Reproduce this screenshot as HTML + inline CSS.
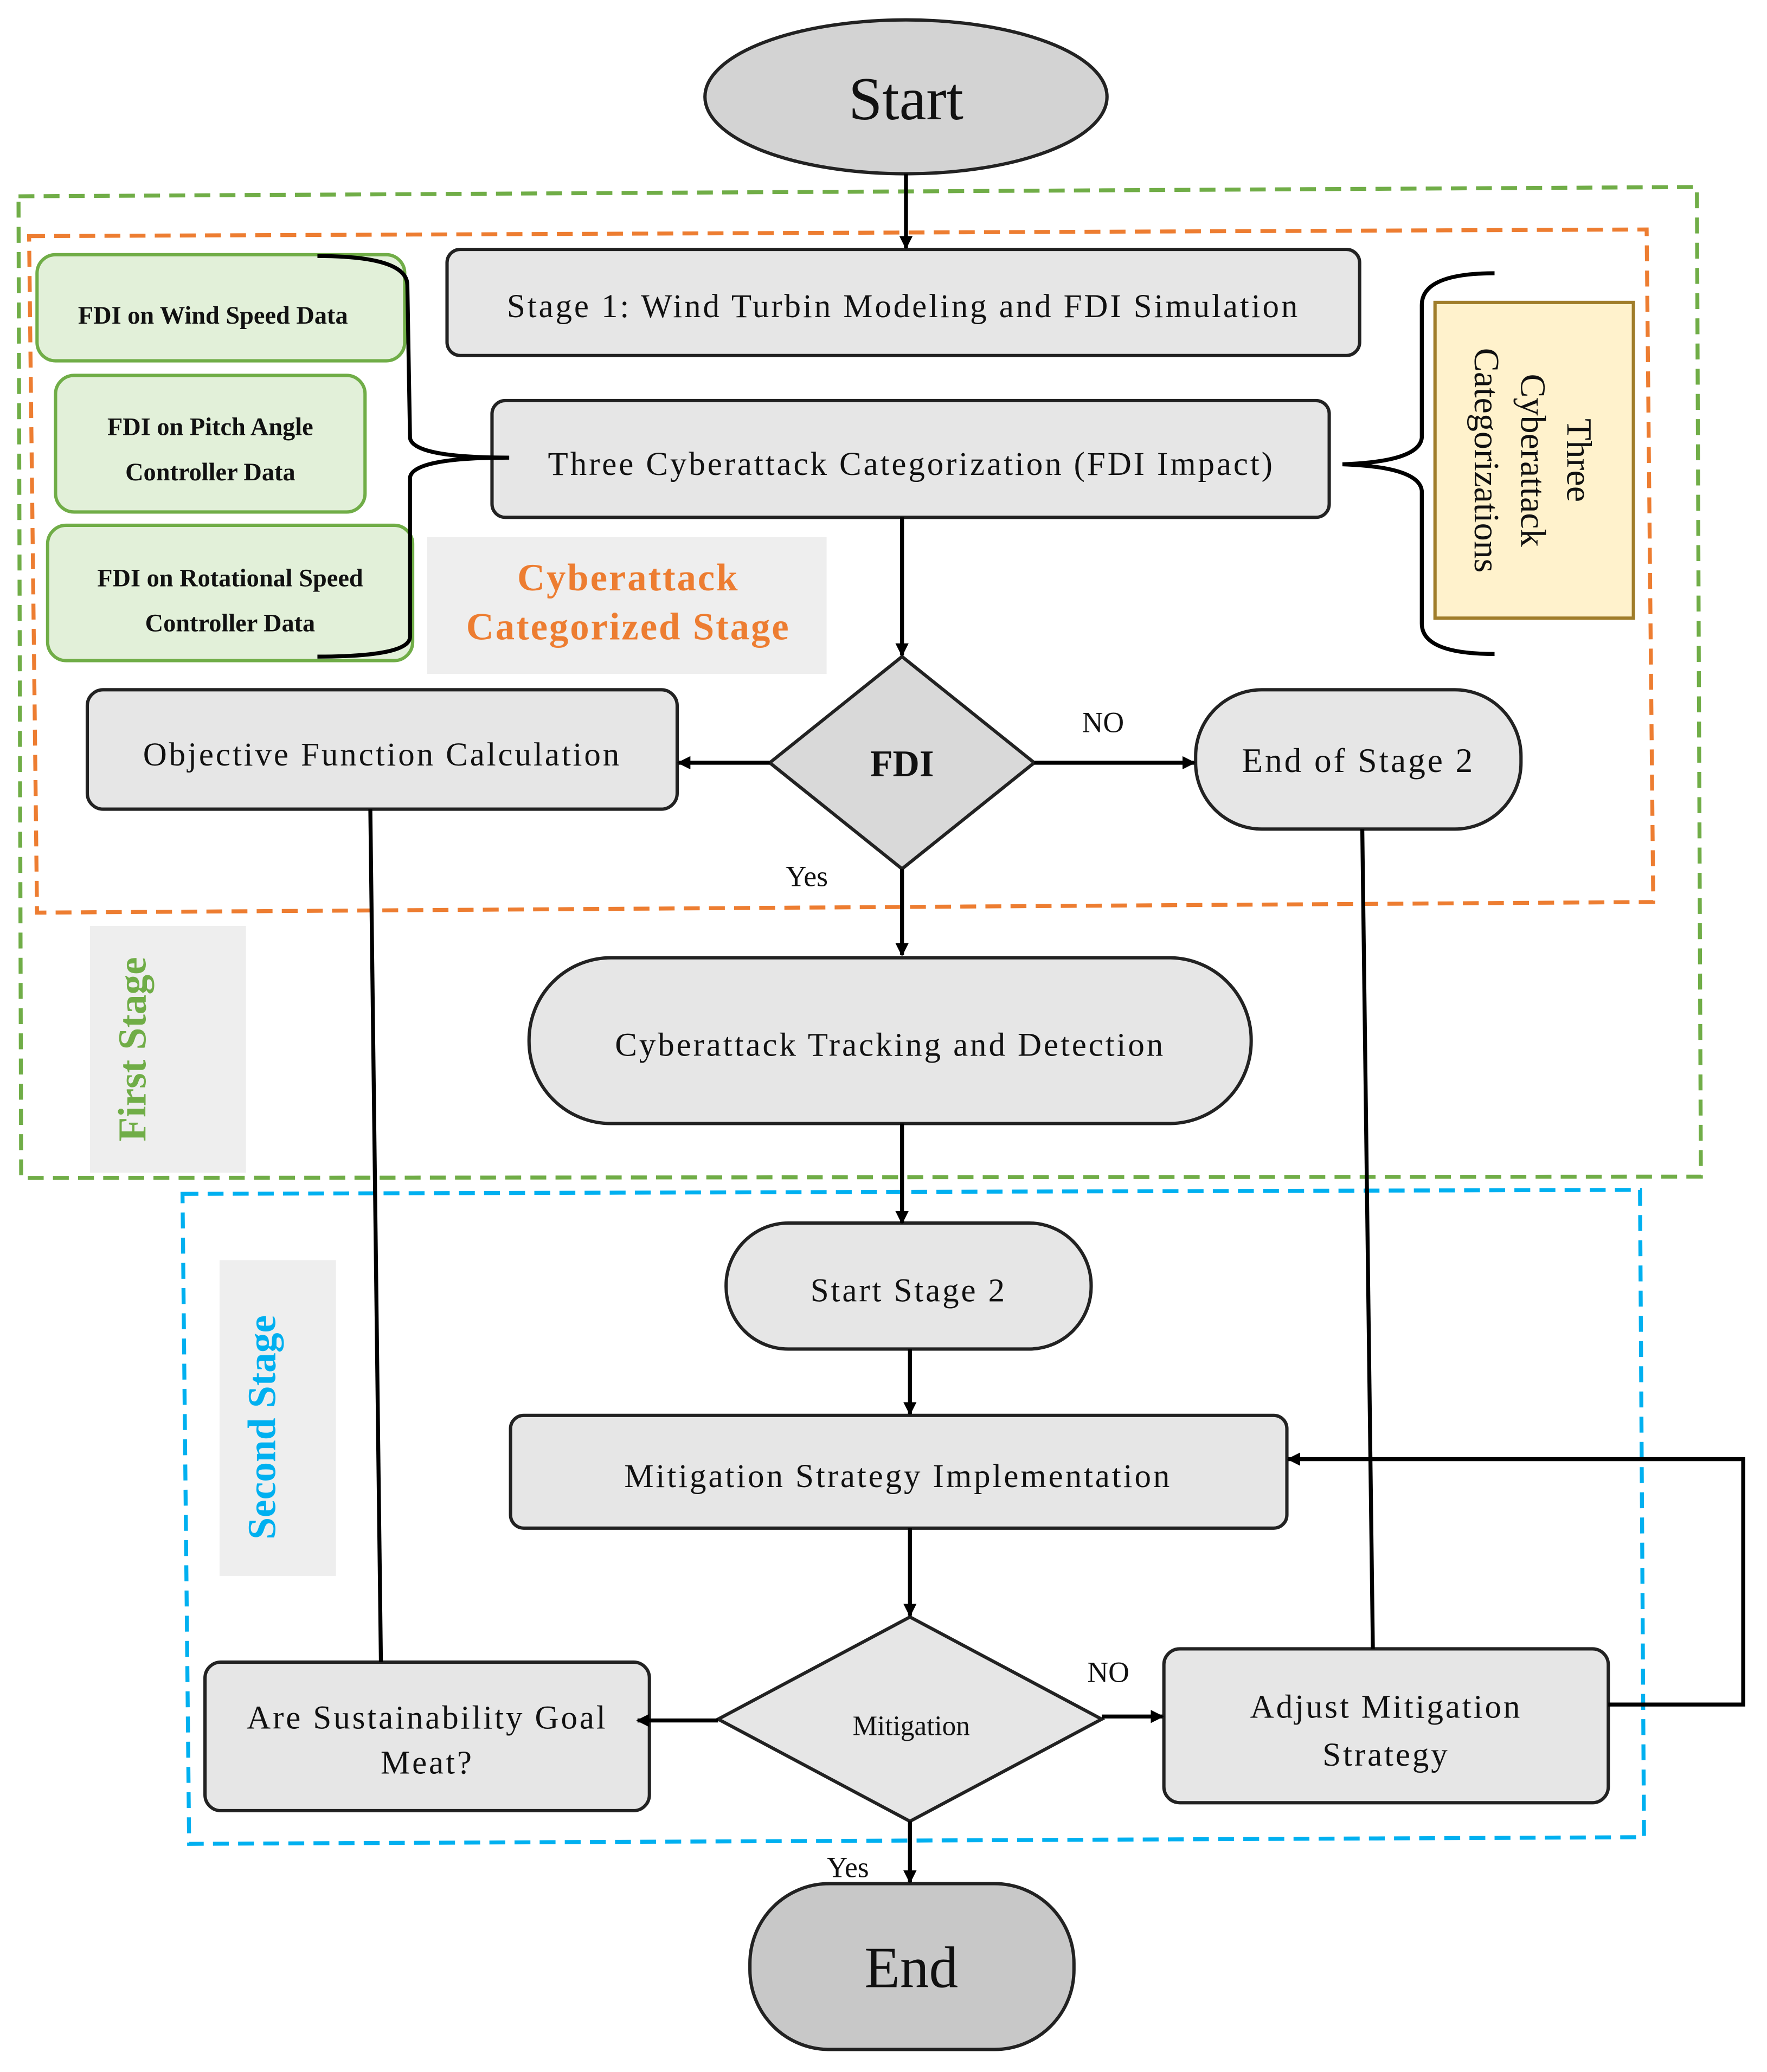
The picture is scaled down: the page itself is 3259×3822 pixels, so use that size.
<!DOCTYPE html>
<html><head><meta charset="utf-8"><style>
html,body{margin:0;padding:0;background:#fff;}
svg{display:block;}
text{font-family:"Liberation Serif",serif;fill:#111;}
.m{letter-spacing:1.6px;}
</style></head><body>
<svg width="3259" height="3822" viewBox="0 0 1336 1562" preserveAspectRatio="none" xmlns="http://www.w3.org/2000/svg">
<defs><marker id="a" markerWidth="10" markerHeight="10" refX="9" refY="5" orient="auto" markerUnits="userSpaceOnUse"><path d="M0,0 L10,5 L0,10 z" fill="#000"/></marker></defs>
<rect width="1336" height="1562" fill="#fff"/>
<path d="M14,148 L1283,141 L1286,887 L16,888 Z" fill="none" stroke="#70ad47" stroke-width="3" stroke-dasharray="12,7"/>
<path d="M22,178 L1245,173 L1250,680 L28,688 Z" fill="none" stroke="#ed7d31" stroke-width="3" stroke-dasharray="12,7"/>
<path d="M138,900 L1240,897 L1243,1385 L143,1390 Z" fill="none" stroke="#00b0f0" stroke-width="3" stroke-dasharray="12,7"/>
<ellipse cx="685" cy="73" rx="152" ry="58" fill="#d3d3d3" stroke="#222" stroke-width="2.5"/>
<text x="685" y="90" font-size="46" text-anchor="middle">Start</text>
<rect x="338" y="188" width="690" height="80" rx="10" fill="#e6e6e6" stroke="#222" stroke-width="2.5"/>
<text class="m" x="683" y="239" font-size="25" text-anchor="middle">Stage 1: Wind Turbin Modeling and FDI Simulation</text>
<rect x="372" y="302" width="633" height="88" rx="10" fill="#e6e6e6" stroke="#222" stroke-width="2.5"/>
<text class="m" x="689" y="358" font-size="25" text-anchor="middle">Three Cyberattack Categorization (FDI Impact)</text>
<g fill="#e2f0d9" stroke="#70ad47" stroke-width="2.5">
<rect x="28" y="192" width="278" height="80" rx="14"/>
<rect x="42" y="283" width="234" height="103" rx="14"/>
<rect x="36" y="396" width="276" height="102" rx="14"/>
</g>
<g font-size="19" font-weight="bold" text-anchor="middle">
<text x="161" y="244">FDI on Wind Speed Data</text>
<text x="159" y="328">FDI on Pitch Angle</text>
<text x="159" y="362">Controller Data</text>
<text x="174" y="442">FDI on Rotational Speed</text>
<text x="174" y="476">Controller Data</text>
</g>
<path d="M240,193 Q308,193 308,215 L310,330 Q312,345 385,345 Q312,345 310,360 L310,480 Q310,495 240,495" fill="none" stroke="#000" stroke-width="3"/>
<path d="M1130,206 Q1075,206 1075,230 L1075,330 Q1073,348 1015,350 Q1073,352 1075,370 L1075,470 Q1075,493 1130,493" fill="none" stroke="#000" stroke-width="3"/>
<rect x="1085" y="228" width="150" height="238" fill="#fff2cc" stroke="#a07d2a" stroke-width="2.5"/>
<g font-size="27" text-anchor="middle">
<text transform="translate(1185,347) rotate(90)">Three</text>
<text transform="translate(1150,347) rotate(90)">Cyberattack</text>
<text transform="translate(1115,347) rotate(90)">Categorizations</text>
</g>
<rect x="323" y="405" width="302" height="103" fill="#eeeeee"/>
<g font-size="29" text-anchor="middle" font-weight="bold" letter-spacing="1.2">
<text x="475" y="445" style="fill:#ed7d31">Cyberattack</text>
<text x="475" y="482" style="fill:#ed7d31">Categorized Stage</text>
</g>
<polygon points="682,495 782,575 682,655 582,575" fill="#d9d9d9" stroke="#222" stroke-width="2.5"/>
<text x="682" y="585" font-size="28" font-weight="bold" text-anchor="middle">FDI</text>
<rect x="66" y="520" width="446" height="90" rx="12" fill="#e6e6e6" stroke="#222" stroke-width="2.5"/>
<text class="m" x="289" y="577" font-size="25" text-anchor="middle">Objective Function Calculation</text>
<rect x="904" y="520" width="246" height="105" rx="50" fill="#e6e6e6" stroke="#222" stroke-width="2.5"/>
<text class="m" x="1027" y="582" font-size="26" text-anchor="middle">End of Stage 2</text>
<text x="834" y="552" font-size="22" text-anchor="middle">NO</text>
<text x="610" y="668" font-size="22" text-anchor="middle">Yes</text>
<rect x="400" y="722" width="546" height="125" rx="62" fill="#e6e6e6" stroke="#222" stroke-width="2.5"/>
<text class="m" x="673" y="796" font-size="25" text-anchor="middle">Cyberattack Tracking and Detection</text>
<rect x="68" y="698" width="118" height="186" fill="#eeeeee"/>
<text transform="translate(110,791) rotate(-90)" font-size="30" font-weight="bold" text-anchor="middle" style="fill:#70ad47">First Stage</text>
<rect x="549" y="922" width="276" height="95" rx="47" fill="#e6e6e6" stroke="#222" stroke-width="2.5"/>
<text class="m" x="687" y="981" font-size="25" text-anchor="middle">Start Stage 2</text>
<rect x="166" y="950" width="88" height="238" fill="#eeeeee"/>
<text transform="translate(208,1076) rotate(-90)" font-size="30" font-weight="bold" text-anchor="middle" style="fill:#00b0f0">Second Stage</text>
<rect x="386" y="1067" width="587" height="85" rx="10" fill="#e6e6e6" stroke="#222" stroke-width="2.5"/>
<text class="m" x="679" y="1121" font-size="25" text-anchor="middle">Mitigation Strategy Implementation</text>
<polygon points="688,1219 833,1296 688,1373 543,1296" fill="#e6e6e6" stroke="#222" stroke-width="2.5"/>
<text x="689" y="1308" font-size="21" text-anchor="middle">Mitigation</text>
<rect x="155" y="1253" width="336" height="112" rx="12" fill="#e6e6e6" stroke="#222" stroke-width="2.5"/>
<text class="m" x="323" y="1303" font-size="25" text-anchor="middle">Are Sustainability Goal</text>
<text class="m" x="323" y="1337" font-size="25" text-anchor="middle">Meat?</text>
<rect x="880" y="1243" width="336" height="116" rx="12" fill="#e6e6e6" stroke="#222" stroke-width="2.5"/>
<text class="m" x="1048" y="1295" font-size="25" text-anchor="middle">Adjust Mitigation</text>
<text class="m" x="1048" y="1331" font-size="25" text-anchor="middle">Strategy</text>
<text x="838" y="1268" font-size="22" text-anchor="middle">NO</text>
<text x="641" y="1415" font-size="22" text-anchor="middle">Yes</text>
<rect x="567" y="1420" width="245" height="125" rx="60" fill="#c8c8c8" stroke="#222" stroke-width="2.5"/>
<text x="689" y="1498" font-size="44" text-anchor="middle">End</text>
<g stroke="#000" stroke-width="3" fill="none">
<line x1="685" y1="131" x2="685" y2="187" marker-end="url(#a)"/>
<line x1="682" y1="390" x2="682" y2="494" marker-end="url(#a)"/>
<line x1="582" y1="575" x2="513" y2="575" marker-end="url(#a)"/>
<line x1="782" y1="575" x2="903" y2="575" marker-end="url(#a)"/>
<line x1="682" y1="655" x2="682" y2="720" marker-end="url(#a)"/>
<line x1="682" y1="847" x2="682" y2="922" marker-end="url(#a)"/>
<line x1="688" y1="1017" x2="688" y2="1066" marker-end="url(#a)"/>
<line x1="688" y1="1152" x2="688" y2="1218" marker-end="url(#a)"/>
<line x1="543" y1="1297" x2="482" y2="1297" marker-end="url(#a)"/>
<line x1="833" y1="1294" x2="879" y2="1294" marker-end="url(#a)"/>
<line x1="688" y1="1373" x2="688" y2="1419" marker-end="url(#a)"/>
<polyline points="1216,1285 1318,1285 1318,1100 974,1100" marker-end="url(#a)"/>
<line x1="280" y1="610" x2="288" y2="1253"/>
<line x1="1030" y1="625" x2="1038" y2="1243"/>
</g>
</svg>
</body></html>
